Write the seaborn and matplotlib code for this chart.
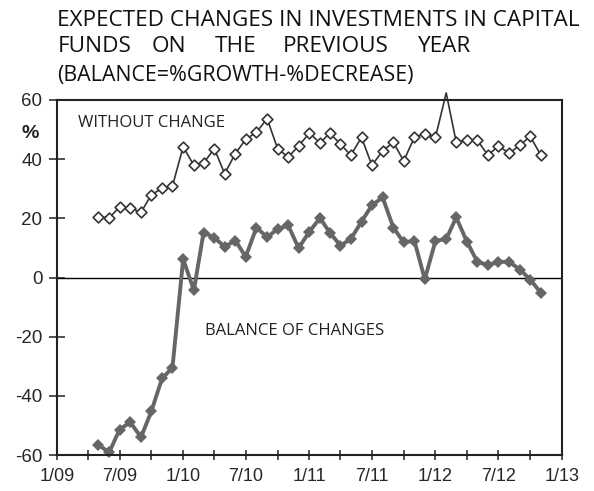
import pandas as pd
import numpy as np
import seaborn as sns
import matplotlib.pyplot as plt
import matplotlib.dates as mdates

# Data (monthly, 5/09 - 11/12)
months = pd.date_range('2009-05-01', '2012-11-01', freq='MS')
withoutChange = [20.6, 20.1, 23.9, 23.5, 22.0, 28.0, 30.1, 30.9, 44.2, 37.9, 38.6, 43.6,
                 35.1, 41.9, 46.7, 49.1, 53.7, 43.6, 40.7, 44.5, 48.8, 45.5, 48.8, 45.1,
                 41.3, 47.4, 37.9, 42.8, 45.7, 39.4, 47.4, 48.5, 47.4, 62.4, 45.7, 46.4,
                 46.4, 41.3, 44.5, 42.0, 44.7, 47.7, 41.3]
balance = [-56.6, -59.1, -51.4, -48.9, -54.0, -45.2, -34.1, -30.5, 6.2, -4.3, 15.2, 13.5,
           10.4, 12.5, 7.0, 16.9, 13.6, 16.4, 17.6, 9.9, 15.5, 20.1, 15.2, 10.8,
           13.0, 18.9, 24.4, 27.1, 16.9, 11.9, 12.4, -0.6, 12.4, 13.0, 20.3, 12.1,
           5.3, 4.2, 5.3, 5.3, 2.7, -0.7, -5.2]
yTicks = [-60, -40, -20, 0, 20, 40, 60]
titleLine1 = 'EXPECTED CHANGES IN INVESTMENTS IN CAPITAL'
titleLine2 = ['FUNDS', 'ON', 'THE', 'PREVIOUS', 'YEAR']
titleLine3 = '(BALANCE=%GROWTH-%DECREASE)'

if __name__ == '__main__':
    sns.set_style('ticks')
    plt.rcParams['font.family'] = ['Liberation Sans', 'DejaVu Sans']
    plt.rcParams['axes.unicode_minus'] = False
    df = pd.DataFrame({'month': months, 'without': withoutChange, 'balance': balance})

    fig = plt.figure(figsize=(5.94, 4.91), dpi=100)
    ax = fig.add_axes([57 / 594, 1 - 455 / 491, 505 / 594, 355 / 491])

    # Without change: thin line (peak allowed past the frame), open diamonds clipped
    sns.lineplot(data=df, x='month', y='without', color='#333333', linewidth=1.2, ax=ax)
    ax.lines[-1].set_clip_on(False)
    sns.scatterplot(data=df, x='month', y='without', marker='D', s=30, color='white',
                    edgecolor='#333333', linewidth=1.2, ax=ax, zorder=3)
    # Balance of changes: thick gray line with filled diamonds
    sns.lineplot(data=df, x='month', y='balance', color='#666666', linewidth=2.8,
                 marker='D', markersize=6, markeredgewidth=0, ax=ax)
    ax.lines[-1].set_clip_on(False)
    ax.axhline(0, color='black', linewidth=1.0, zorder=1)

    # Axes
    ax.set_xlim(pd.Timestamp('2009-01-01'), pd.Timestamp('2013-01-01'))
    ax.set_ylim(-60, 60)
    ax.set_yticks(yTicks)
    ax.xaxis.set_major_locator(mdates.MonthLocator(bymonth=[1, 7]))
    ax.xaxis.set_minor_locator(mdates.MonthLocator(bymonth=[4, 10]))
    ax.xaxis.set_major_formatter(mdates.DateFormatter('%-m/%y'))
    ax.set_xlabel('')
    ax.set_ylabel('')
    for side in ['left', 'right', 'top', 'bottom']:
        ax.spines[side].set_visible(True)
        ax.spines[side].set_linewidth(1.5)
        ax.spines[side].set_color('#222222')
    ax.tick_params(axis='x', which='both', direction='inout', length=7, width=1.1,
                   pad=6, labelsize=13, color='#222222')
    ax.tick_params(axis='y', direction='inout', length=11, width=1.1, pad=5,
                   labelsize=13.5, color='#222222')

    # Labels inside the plot
    ax.text((78 - 57) / 505, (455 - 123) / 355, 'WITHOUT CHANGE',
            transform=ax.transAxes, ha='left', va='center', fontsize=12,
            family='Open Sans', color='#222222')
    ax.text((205 - 57) / 505, (455 - 331) / 355, 'BALANCE OF CHANGES',
            transform=ax.transAxes, ha='left', va='center', fontsize=12,
            family='Open Sans', color='#222222')
    fig.text(30 / 594, 1 - 133 / 491, '%', ha='center', va='center', fontsize=14,
             fontweight='bold', color='#222222')

    # Title (second line is justified in the original)
    fig.text(57 / 594, 1 - 20 / 491, titleLine1, ha='left', va='center', fontsize=16.2,
             family='Open Sans', color='#111111')
    for word, xPix in zip(titleLine2, [58, 152, 215, 283, 418]):
        fig.text(xPix / 594, 1 - 47 / 491, word, ha='left', va='center', fontsize=16.2,
                 family='Open Sans', color='#111111')
    fig.text(57 / 594, 1 - 75 / 491, titleLine3, ha='left', va='center', fontsize=15.4,
             family='Open Sans', color='#111111')

    plt.savefig('out.png', dpi=100)
